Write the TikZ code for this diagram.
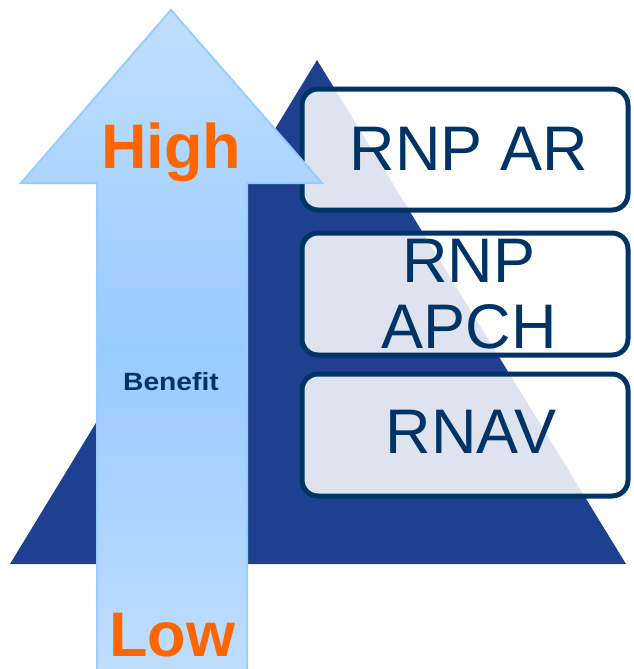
\documentclass[tikz,border=0pt]{standalone}
\usepackage{fontspec}
\setmainfont{Liberation Sans}
\definecolor{pyramid}{HTML}{1F3F8F}
\definecolor{navy}{HTML}{003366}
\definecolor{hot}{HTML}{FF6600}
\definecolor{skytop}{HTML}{C0DFFD}
\definecolor{skymid}{HTML}{99CAFF}
\definecolor{skyedge}{HTML}{99CCFF}
\tikzset{
  level/.style={draw=navy, line width=5pt, rounded corners=16pt,
    fill=white, fill opacity=0.86},
  leveltext/.style={text=navy, align=center, inner sep=0pt, anchor=base,
    font=\fontsize{63}{66}\selectfont},
  endlabel/.style={text=hot, inner sep=0pt, anchor=base,
    font=\bfseries\fontsize{63}{66}\selectfont}
}
\begin{document}
\begin{tikzpicture}[x=1pt,y=-1pt]
  \useasboundingbox (0,0) rectangle (633,669);
  \clip (0,0) rectangle (633,669);
  % pyramid
  \fill[pyramid] (317,60) -- (626,564) -- (10,564) -- cycle;
  % three levels
  \draw[level] (302,89) rectangle (628,210);
  \draw[level] (302,233) rectangle (628,355);
  \draw[level] (302,374) rectangle (628,496);
  \node[leveltext] (ar) at (469,170) {RNP AR};
  \node[leveltext] (apch1) at (469,282) {RNP};
  \node[leveltext] (apch2) at (469,348) {APCH};
  \node[leveltext] (rnav) at (471,453) {RNAV};
  % benefit arrow
  \path[draw=skyedge, line width=2pt, top color=skytop, bottom color=skytop,
        middle color=skymid]
    (171,10) -- (322,183) -- (247,183) -- (247,690) -- (97,690)
    -- (97,183) -- (21,183) -- cycle;
  \node[endlabel] (high) at (171,168) {High};
  \node[endlabel] (low) at (172,656) {Low};
  \node[text=navy, inner sep=0pt, anchor=base, xscale=1.13,
        font=\bfseries\fontsize{25}{27}\selectfont] (benefit) at (171,390) {Benefit};
\end{tikzpicture}
\end{document}
